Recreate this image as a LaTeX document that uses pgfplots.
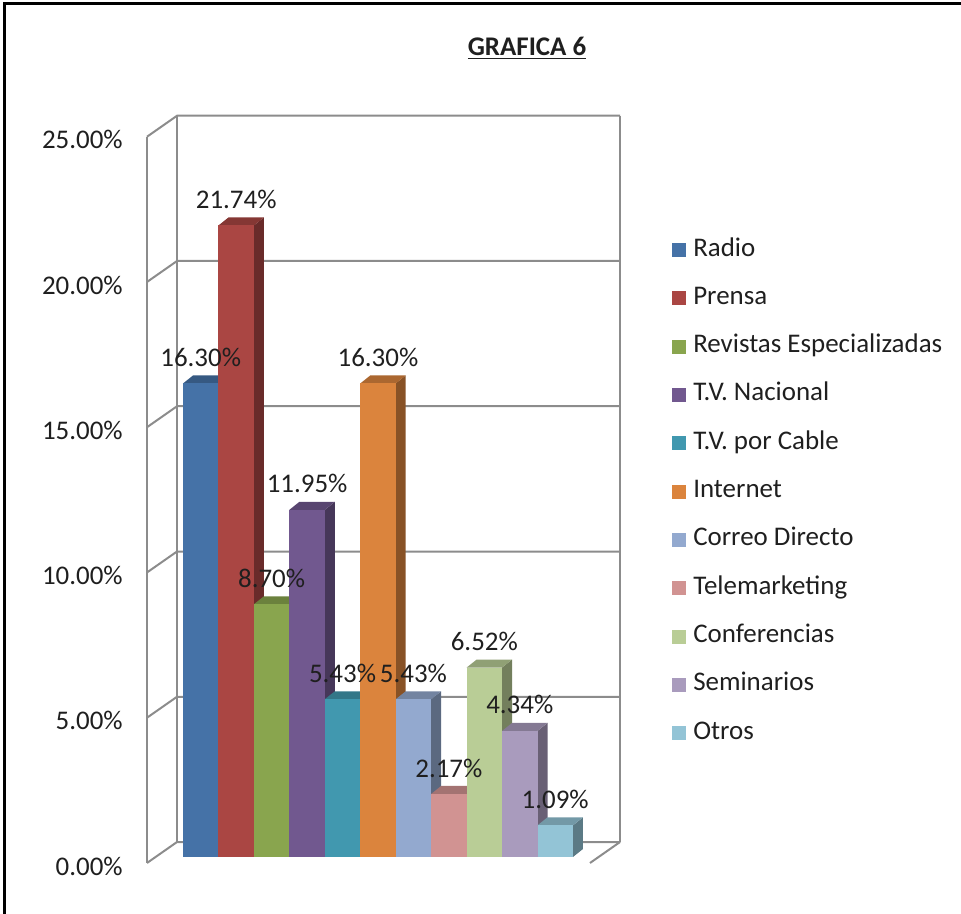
\documentclass[border=0pt]{standalone}
\usepackage{pgfplots}
\pgfplotsset{compat=1.18}
\usepackage{fontspec}
\setmainfont{Carlito}
\definecolor{c1}{HTML}{4572A7}
\definecolor{c2}{HTML}{AA4643}
\definecolor{c3}{HTML}{89A54E}
\definecolor{c4}{HTML}{71588F}
\definecolor{c5}{HTML}{4198AF}
\definecolor{c6}{HTML}{DB843D}
\definecolor{c7}{HTML}{93A9CF}
\definecolor{c8}{HTML}{D19392}
\definecolor{c9}{HTML}{B9CD96}
\definecolor{c10}{HTML}{A99BBD}
\definecolor{c11}{HTML}{93C4D6}
\definecolor{gridc}{HTML}{8C8C8C}
\pgfplotsset{
  barfront/.style={ybar, bar width=1, bar shift=0pt, fill=#1, draw=none,
    nodes near coords={\pgfmathprintnumber[fixed,fixed zerofill,precision=2]{\pgfplotspointmeta}\%},
    nodes near coords style={anchor=center, yshift=19.5pt, inner sep=0pt, text=black!88},
    legend image code/.code={\fill[fill=#1,draw=none] (0pt,-5.25pt) rectangle (10.5pt,5.25pt);}},
  barside/.style={fill=#1!62!black, draw=none, forget plot},
  bartop/.style={fill=#1!78!black, draw=none, forget plot},
}
\begin{document}
\fontsize{20.2}{24}\selectfont
\begin{tikzpicture}[x=0.75pt,y=0.75pt]
\useasboundingbox (0,0) rectangle (961,914);
\draw[line width=2.25pt] (4.7,0) -- (4.7,910.7) -- (961,910.7);
\node[font=\bfseries, text=black!88] at (527,866) {\underline{GRAFICA 6}};
\coordinate (O) at (147,49.74);
\begin{axis}[
  at={(O)}, anchor=south west,
  scale only axis, width=354.75pt, height=561.9pt,
  xmin=-1.0155, xmax=12.327, ymin=-0.25, ymax=25.54,
  clip=false,
  axis line style={draw=none},
  xtick=\empty,
  ytick={-0.2065,4.7935,9.7935,14.7935,19.7935,24.7935},
  yticklabels={0.00\%,5.00\%,10.00\%,15.00\%,20.00\%,25.00\%},
  major tick length=0pt,
  /pgf/number format/assume math mode=true,
  yticklabel style={anchor=east, inner sep=0pt, xshift=-18pt, yshift=-2.25pt, text=black!88},
  legend cell align=left,
  legend style={draw=none, fill=none, at={(axis cs:13.794,21.34)}, anchor=north west,
    inner sep=0pt, row sep=17.25pt, column sep=5.25pt,
    nodes={inner sep=0pt, text height=14pt, text depth=5pt}, text=black!88},
]
% walls and grid
\draw[draw=gridc, line width=1.5pt] (-1.0155,-0.2065) -- (-1.0155,24.7935);
\draw[draw=gridc, line width=1.5pt] (-0.169,0.516) -- (-0.169,25.516);
\draw[draw=gridc, line width=1.5pt] (12.327,0.516) -- (12.327,25.516);
\draw[draw=gridc, line width=1.5pt] (11.481,-0.2065) -- (12.327,0.516);
\draw[draw=gridc, line width=1.5pt] (-1.0155,-0.2065) -- (-0.169,0.516) -- (12.327,0.516);
\draw[draw=gridc, line width=1.5pt] (-1.0155,4.7935) -- (-0.169,5.516) -- (12.327,5.516);
\draw[draw=gridc, line width=1.5pt] (-1.0155,9.7935) -- (-0.169,10.516) -- (12.327,10.516);
\draw[draw=gridc, line width=1.5pt] (-1.0155,14.7935) -- (-0.169,15.516) -- (12.327,15.516);
\draw[draw=gridc, line width=1.5pt] (-1.0155,19.7935) -- (-0.169,20.516) -- (12.327,20.516);
\draw[draw=gridc, line width=1.5pt] (-1.0155,24.7935) -- (-0.169,25.516) -- (12.327,25.516);
% Radio
\addplot[barside=c1] coordinates {(1,0)(1.282,0.275)(1.282,16.575)(1,16.30)} --cycle;
\addplot[bartop=c1] coordinates {(0,16.30)(0.282,16.575)(1.282,16.575)(1,16.30)} --cycle;
\addplot[barfront=c1] coordinates {(0.5,16.30)};
\addlegendentry{Radio}
% Prensa
\addplot[barside=c2] coordinates {(2,0)(2.282,0.275)(2.282,22.015)(2,21.74)} --cycle;
\addplot[bartop=c2] coordinates {(1,21.74)(1.282,22.015)(2.282,22.015)(2,21.74)} --cycle;
\addplot[barfront=c2] coordinates {(1.5,21.74)};
\addlegendentry{Prensa}
% Revistas
\addplot[barside=c3] coordinates {(3,0)(3.282,0.275)(3.282,8.975)(3,8.70)} --cycle;
\addplot[bartop=c3] coordinates {(2,8.70)(2.282,8.975)(3.282,8.975)(3,8.70)} --cycle;
\addplot[barfront=c3] coordinates {(2.5,8.70)};
\addlegendentry{Revistas Especializadas}
% TV Nacional
\addplot[barside=c4] coordinates {(4,0)(4.282,0.275)(4.282,12.225)(4,11.95)} --cycle;
\addplot[bartop=c4] coordinates {(3,11.95)(3.282,12.225)(4.282,12.225)(4,11.95)} --cycle;
\addplot[barfront=c4] coordinates {(3.5,11.95)};
\addlegendentry{T.V. Nacional}
% TV Cable
\addplot[barside=c5] coordinates {(5,0)(5.282,0.275)(5.282,5.705)(5,5.43)} --cycle;
\addplot[bartop=c5] coordinates {(4,5.43)(4.282,5.705)(5.282,5.705)(5,5.43)} --cycle;
\addplot[barfront=c5] coordinates {(4.5,5.43)};
\addlegendentry{T.V. por Cable}
% Internet
\addplot[barside=c6] coordinates {(6,0)(6.282,0.275)(6.282,16.575)(6,16.30)} --cycle;
\addplot[bartop=c6] coordinates {(5,16.30)(5.282,16.575)(6.282,16.575)(6,16.30)} --cycle;
\addplot[barfront=c6] coordinates {(5.5,16.30)};
\addlegendentry{Internet}
% Correo Directo
\addplot[barside=c7] coordinates {(7,0)(7.282,0.275)(7.282,5.705)(7,5.43)} --cycle;
\addplot[bartop=c7] coordinates {(6,5.43)(6.282,5.705)(7.282,5.705)(7,5.43)} --cycle;
\addplot[barfront=c7] coordinates {(6.5,5.43)};
\addlegendentry{Correo Directo}
% Telemarketing
\addplot[barside=c8] coordinates {(8,0)(8.282,0.275)(8.282,2.445)(8,2.17)} --cycle;
\addplot[bartop=c8] coordinates {(7,2.17)(7.282,2.445)(8.282,2.445)(8,2.17)} --cycle;
\addplot[barfront=c8] coordinates {(7.5,2.17)};
\addlegendentry{Telemarketing}
% Conferencias
\addplot[barside=c9] coordinates {(9,0)(9.282,0.275)(9.282,6.795)(9,6.52)} --cycle;
\addplot[bartop=c9] coordinates {(8,6.52)(8.282,6.795)(9.282,6.795)(9,6.52)} --cycle;
\addplot[barfront=c9] coordinates {(8.5,6.52)};
\addlegendentry{Conferencias}
% Seminarios
\addplot[barside=c10] coordinates {(10,0)(10.282,0.275)(10.282,4.615)(10,4.34)} --cycle;
\addplot[bartop=c10] coordinates {(9,4.34)(9.282,4.615)(10.282,4.615)(10,4.34)} --cycle;
\addplot[barfront=c10] coordinates {(9.5,4.34)};
\addlegendentry{Seminarios}
% Otros
\addplot[barside=c11] coordinates {(11,0)(11.282,0.275)(11.282,1.365)(11,1.09)} --cycle;
\addplot[bartop=c11] coordinates {(10,1.09)(10.282,1.365)(11.282,1.365)(11,1.09)} --cycle;
\addplot[barfront=c11] coordinates {(10.5,1.09)};
\addlegendentry{Otros}
\end{axis}
\end{tikzpicture}
\end{document}
